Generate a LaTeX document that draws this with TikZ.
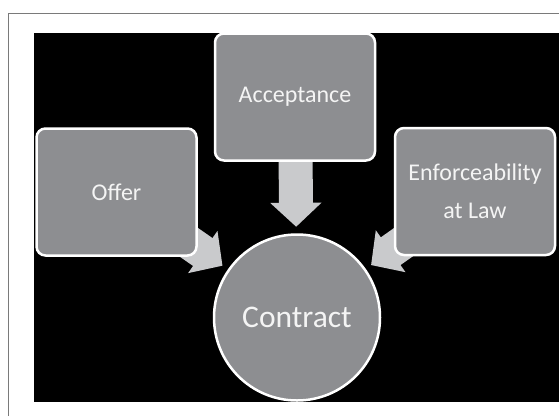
\documentclass[tikz,border=0pt]{standalone}
\usepackage{fontspec}
\setmainfont{Carlito}
\usepackage{tikz}
\usetikzlibrary{arrows.meta}
\usetikzlibrary{backgrounds}
\definecolor{boxgray}{HTML}{8D8E91}
\definecolor{arrowgray}{HTML}{C9CACC}
\definecolor{framegray}{HTML}{7A7A7A}
\definecolor{textwhite}{HTML}{F4F4F4}

\begin{document}
\begin{tikzpicture}[x=1pt,y=-1pt,box/.style={rectangle,rounded corners=9pt,draw=white,line width=2.5pt,fill=boxgray,text=textwhite,minimum width=160pt,minimum height=127pt,align=center,font=\fontsize{24}{38}\selectfont},hub/.style={circle,draw=white,line width=2.5pt,fill=boxgray,text=textwhite,minimum size=166pt,font=\fontsize{31.5}{38}\selectfont},flow/.style={arrowgray,line width=34pt,-{Triangle[length=24pt,width=50pt]},shorten >=6.5pt}]
            \useasboundingbox (0,0) rectangle (559,416);
            \draw[framegray,line width=1pt] (8,416) -- (8,13) -- (559,13);
            % the four parts
            \node[box] (accept) at (295,97) {Acceptance};
            \node[box] (offer) at (116.5,192) {Offer};
            \node[box] (enforce) at (475,191.5) {Enforceability\\at Law};
            \node[hub] (contract) at (297,317.5) {Contract};
            \begin{scope}[on background layer]
              \fill[black] (34,33) rectangle (559,402);
              \draw[flow] (accept.center) -- (contract);
              \draw[flow] (offer.center) -- (contract);
              \draw[flow] (enforce.center) -- (contract);
            \end{scope}
          \end{tikzpicture}
\end{document}
